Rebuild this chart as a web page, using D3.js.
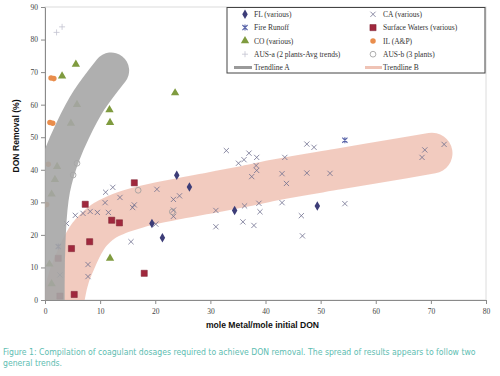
<!DOCTYPE html>
<html>
<head>
<meta charset="utf-8">
<script src="https://cdn.jsdelivr.net/npm/d3@7"></script>
<style>
body { margin: 0; background: #fff; }
</style>
</head>
<body>
<div id="chart"></div>
<script>
// data: [mole Metal/mole DON, % removal]
var flPts = [[23.9,38.3],[26.2,34.7],[19.4,23.5],[21.3,19.1],[34.4,27.5],[49.4,28.9]];
var caPts = [[3.9,23.5],[2.7,7.7],[5.5,26.0],[6.9,26.6],[8.2,27.2],[9.5,26.9],[11.5,26.9],[11.0,33.1],
  [12.3,34.6],[10.9,29.9],[13.6,31.5],[15.9,28.4],[16.2,29.2],[7.8,10.9],[7.8,7.2],[15.6,17.9],
  [20.3,34.0],[23.3,30.9],[24.4,32.0],[23.3,27.6],[23.3,25.7],[20.1,23.3],[31.0,27.5],[31.0,22.5],
  [32.9,45.9],[35.1,42.0],[36.1,43.1],[37.0,45.1],[38.4,43.8],[38.3,41.3],[38.4,39.8],[37.5,37.9],
  [36.2,28.9],[38.8,29.7],[39.0,27.1],[35.9,24.0],[37.9,22.9],[47.5,47.9],[48.8,46.9],[43.5,43.8],
  [43.0,38.8],[47.5,39.0],[51.7,38.9],[43.8,35.8],[43.0,29.9],[46.5,25.9],[54.4,29.6],[46.7,19.7],
  [68.9,46.1],[68.4,43.8],[72.4,47.8]];
var fireRunoffPts = [[54.4,49.1],[2.4,16.4]];
var surfacePts = [[16.2,36.0],[7.3,29.4],[12.1,24.5],[13.5,23.7],[8.1,17.9],[4.8,15.8],[2.4,12.8],
  [18.0,8.2],[2.7,1.2],[5.3,1.7]];
var coPts = [[5.6,72.4],[3.1,68.8],[23.6,63.6],[11.7,58.4],[11.8,54.5],[5.8,60.0],[4.7,54.3],
  [11.8,12.8],[2.2,41.0],[1.8,37.0],[1.2,32.5],[0.8,11.0],[1.2,5.0]];
var ilPts = [[1.1,68.2],[1.6,68.0],[0.9,54.5],[1.4,54.3],[0.6,41.7],[0.3,29.3]];
var ausAPts = [[2.1,82.2],[3.1,83.9]];
var ausBPts = [[5.8,42.0],[5.1,38.4],[16.9,33.7],[23.1,27.1]];

// hand-drawn trend bands (centre lines)
var trendA = [[0.3,-4],[0.3,5],[0.5,20],[1.3,34],[3.2,45],[5.0,52],[8.0,61.4],[12.0,70.5]];
var trendB = [[3.0,-4],[4.0,5],[5.5,12],[7.5,18.8],[10.0,23.4],[13.0,26.2],[17.5,28.7],[24.2,31.1],
  [30.2,33.0],[36.4,35.0],[41.8,36.9],[53.1,40.2],[65.1,43.6],[70.2,45.1]];

var xTicks = [0,10,20,30,40,50,60,70,80];
var yTicks = [0,10,20,30,40,50,60,70,80,90];

var legendCol1 = ["FL (various)", "Fire Runoff", "CO (various)", "AUS-a (2 plants-Avg trends)", "Trendline A"];
var legendCol2 = ["CA (various)", "Surface Waters (various)", "IL (A&P)", "AUS-b (3 plants)", "Trendline B"];

var captionLines = ["Figure 1: Compilation of coagulant dosages required to achieve DON removal. The spread of results appears to follow two",
  "general trends."];

var W = 500, H = 376;
var m = { left: 45, right: 486, top: 7, bottom: 300 };

var svg = d3.select("#chart").append("svg")
  .attr("width", W).attr("height", H);

var x = d3.scaleLinear().domain([0, 80]).range([m.left, m.right]);
var y = d3.scaleLinear().domain([0, 90]).range([m.bottom, m.top]);

svg.append("clipPath").attr("id", "plotclip")
  .append("rect")
  .attr("x", m.left).attr("y", m.top)
  .attr("width", m.right - m.left).attr("height", m.bottom - m.top);

// light frame
svg.append("rect")
  .attr("x", m.left).attr("y", m.top)
  .attr("width", m.right - m.left).attr("height", m.bottom - m.top)
  .attr("fill", "none").attr("stroke", "#dcdcdc").attr("stroke-width", 1);

var serif = "'Liberation Serif', 'DejaVu Serif', serif";

// axes
var xAxis = svg.append("g")
  .attr("transform", `translate(0,${m.bottom})`)
  .call(d3.axisBottom(x).tickValues(xTicks).tickSize(4).tickSizeOuter(0));
var yAxis = svg.append("g")
  .attr("transform", `translate(${m.left},0)`)
  .call(d3.axisLeft(y).tickValues(yTicks).tickSize(4).tickSizeOuter(0));

[xAxis, yAxis].forEach(function(a) {
  a.select(".domain").attr("stroke", "#8a8a8a");
  a.selectAll(".tick line").attr("stroke", "#8a8a8a");
  a.selectAll(".tick text")
    .attr("fill", "#444")
    .style("font-family", serif)
    .style("font-size", "7.5px");
});
xAxis.selectAll(".tick text").attr("dy", "0.9em");

var lineB = d3.line()
  .x(d => x(d[0]))
  .y(d => y(d[1]))
  .curve(d3.curveMonotoneX);
var lineA = d3.line()
  .x(d => x(d[0]))
  .y(d => y(d[1]))
  .curve(d3.curveMonotoneY);

var plot = svg.append("g").attr("clip-path", "url(#plotclip)");

// Trendline B under the points
plot.append("path")
  .attr("d", lineB(trendB))
  .attr("fill", "none")
  .attr("stroke", "#eaae9b")
  .attr("stroke-opacity", 0.64)
  .attr("stroke-width", 41)
  .attr("stroke-linecap", "round")
  .attr("stroke-linejoin", "round");

var symX = "M-2.6,-2.6L2.6,2.6M-2.6,2.6L2.6,-2.6";
var symPlus = "M-3,0H3M0,-3V3";
var symStar = "M-2.6,-2.6L2.6,2.6M-2.6,2.6L2.6,-2.6M0,-3V3";

var series = [
  { pts: caPts, path: symX, fill: "none", stroke: "#6f6f8e", sw: 0.8 },
  { pts: ausAPts, path: symPlus, fill: "none", stroke: "#c3c3d0", sw: 0.8 },
  { pts: ausBPts, path: d3.symbol(d3.symbolCircle, 26)(), fill: "none", stroke: "#9a9a9a", sw: 0.8 },
  { pts: fireRunoffPts, path: symStar, fill: "none", stroke: "#5863a8", sw: 1.1 },
  { pts: flPts, path: d3.symbol(d3.symbolDiamond, 26)(), fill: "#3d3d78", stroke: "none", sw: 0 },
  { pts: coPts, path: d3.symbol(d3.symbolTriangle, 30)(), fill: "#7f9b3f", stroke: "none", sw: 0 },
  { pts: surfacePts, path: d3.symbol(d3.symbolSquare, 38)(), fill: "#a0283d", stroke: "#7a1f2e", sw: 0.5 },
  { pts: ilPts, path: d3.symbol(d3.symbolCircle, 24)(), fill: "#e98d4c", stroke: "none", sw: 0 }
];

series.forEach(function(s) {
  plot.selectAll(null)
    .data(s.pts)
    .enter().append("path")
    .attr("transform", d => `translate(${x(d[0])},${y(d[1])})`)
    .attr("d", s.path)
    .attr("fill", s.fill)
    .attr("stroke", s.stroke)
    .attr("stroke-width", s.sw);
});

// Trendline A sits over the points, points show through faintly
plot.append("path")
  .attr("d", lineA(trendA))
  .attr("fill", "none")
  .attr("stroke", "#a6a6a6")
  .attr("stroke-opacity", 0.9)
  .attr("stroke-width", 36)
  .attr("stroke-linecap", "round")
  .attr("stroke-linejoin", "round");

// axis titles
svg.append("text")
  .attr("x", (m.left + m.right) / 2 - 3)
  .attr("y", 328)
  .attr("text-anchor", "middle")
  .style("font-family", "'Liberation Sans', Arial, sans-serif")
  .style("font-weight", "bold")
  .style("font-size", "8.6px")
  .attr("fill", "#111")
  .text("mole Metal/mole initial DON");

svg.append("text")
  .attr("transform", "translate(19,136) rotate(-90)")
  .attr("text-anchor", "middle")
  .style("font-family", "'Liberation Sans', Arial, sans-serif")
  .style("font-weight", "bold")
  .style("font-size", "8.6px")
  .attr("fill", "#111")
  .text("DON Removal (%)");

// legend
var lg = svg.append("g");
lg.append("rect")
  .attr("x", 227).attr("y", 7.5)
  .attr("width", 258).attr("height", 65.5)
  .attr("fill", "#fff")
  .attr("stroke", "#444").attr("stroke-width", 1);

var rowY = d => 14.3 + d * 13.3;
var col1Sym = [series[4], series[3], series[5], series[1]];
var col2Sym = [series[0], series[6], series[7], series[2]];

col1Sym.forEach(function(s, i) {
  lg.append("path")
    .attr("transform", `translate(245,${rowY(i)})`)
    .attr("d", s.path).attr("fill", s.fill).attr("stroke", s.stroke).attr("stroke-width", s.sw);
});
col2Sym.forEach(function(s, i) {
  lg.append("path")
    .attr("transform", `translate(373,${rowY(i)})`)
    .attr("d", s.path).attr("fill", s.fill).attr("stroke", s.stroke).attr("stroke-width", s.sw);
});

lg.append("line")
  .attr("x1", 234).attr("x2", 252).attr("y1", rowY(4)).attr("y2", rowY(4))
  .attr("stroke", "#9a9a9a").attr("stroke-width", 3);
lg.append("line")
  .attr("x1", 365).attr("x2", 382).attr("y1", rowY(4)).attr("y2", rowY(4))
  .attr("stroke", "#efc3b5").attr("stroke-width", 3);

lg.selectAll(".c1")
  .data(legendCol1)
  .enter().append("text")
  .attr("x", 254)
  .attr("y", (d, i) => rowY(i) + 2.6)
  .style("font-family", serif).style("font-size", "7.5px")
  .attr("fill", "#333")
  .text(d => d);

lg.selectAll(".c2")
  .data(legendCol2)
  .enter().append("text")
  .attr("x", 383)
  .attr("y", (d, i) => rowY(i) + 2.6)
  .style("font-family", serif).style("font-size", "7.5px")
  .attr("fill", "#333")
  .text(d => d);

// caption, squeezed horizontally to the original's width
var capG = svg.append("g");
var cap = capG.selectAll(".cap")
  .data(captionLines)
  .enter().append("text")
  .attr("x", 0)
  .attr("y", (d, i) => 355 + i * 11.5)
  .style("font-family", "'DejaVu Sans Condensed', 'Liberation Sans Narrow', sans-serif")
  .style("font-size", "9.5px")
  .attr("fill", "#5dbdb1")
  .text(d => d);

var n0 = cap.nodes()[0].getComputedTextLength();
var k = 473 / n0;
capG.attr("transform", `translate(3,0) scale(${k},1)`);
</script>
</body>
</html>
